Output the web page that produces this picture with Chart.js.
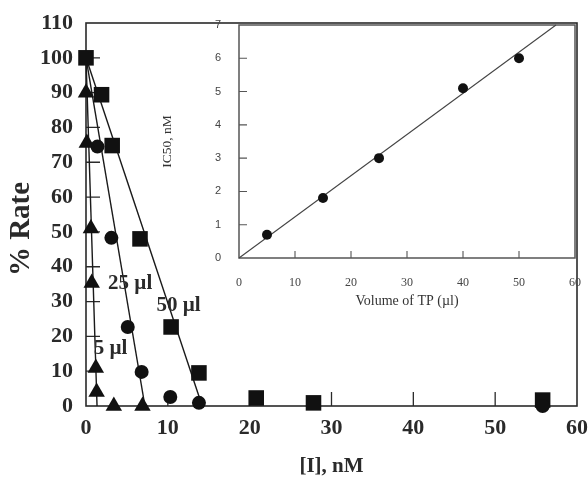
<!DOCTYPE html>
<html lang="en">
<head>
<meta charset="UTF-8">
<title>% Rate vs [I]</title>
<script src="https://cdn.jsdelivr.net/npm/chart.js"></script>
<style>
    body { margin: 0; background: #fff; }
    #wrap { position: relative; width: 588px; height: 481px; }
    #mainChart { position: absolute; left: 0; top: 0; }
    #insetChart { position: absolute; left: 140px; top: 0; }
</style>
</head>
<body>
<div id="wrap">
    <canvas id="mainChart" width="588" height="481"></canvas>
    <canvas id="insetChart" width="448" height="320"></canvas>
</div>
<script>
// main plot: % rate vs [I] for three volumes of TP
const sqX = [0, 1.9, 3.2, 6.6, 10.4, 13.8, 20.8, 27.8, 55.8];
const sqY = [100, 89.4, 74.8, 48, 22.7, 9.5, 2.3, 0.9, 1.7];
const ciX = [1.4, 3.1, 5.1, 6.8, 10.3, 13.8, 55.8];
const ciY = [74.5, 48.3, 22.7, 9.8, 2.6, 0.9, 0];
const trX = [0, 0.1, 0.6, 0.7, 1.2, 1.3, 3.4, 6.9];
const trY = [90, 75.5, 51, 35.3, 10.9, 4, 0, 0];

// straight fitted lines (end points)
const fit5X = [0, 1.35], fit5Y = [100, 0];
const fit25X = [0, 7.2], fit25Y = [100, 0];
const fit50X = [0, 14.2], fit50Y = [100, 0];

const noteText = ['5 µl', '25 µl', '50 µl'];
const noteX = [3.0, 5.4, 11.3];
const noteY = [16.4, 35.3, 28.7];

// inset: IC50 vs volume of TP
const volX = [5, 15, 25, 40, 50];
const ic50Y = [0.7, 1.8, 3.0, 5.1, 6.0];
const icFitX = [0, 56.6], icFitY = [0, 7];

const serif = '"Liberation Serif", "Times New Roman", serif';
const sans = '"Liberation Sans", Arial, sans-serif';

function pts(xs, ys) { return xs.map((x, i) => ({x: x, y: ys[i]})); }

// box round the plot area plus short ticks pointing inwards
const frame = {
    id: 'frame',
    beforeDatasetsDraw(chart, args, o) {
        const {ctx, chartArea: a, scales} = chart;
        ctx.save();
        ctx.strokeStyle = o.color;
        ctx.lineWidth = o.width;
        ctx.strokeRect(a.left, a.top, a.right - a.left, a.bottom - a.top);
        ctx.lineWidth = o.tickWidth;
        ctx.beginPath();
        scales.x.ticks.forEach(t => {
            if (t.value <= scales.x.min || t.value >= scales.x.max) return;
            const px = scales.x.getPixelForValue(t.value);
            ctx.moveTo(px, a.bottom);
            ctx.lineTo(px, a.bottom - o.xLen);
        });
        scales.y.ticks.forEach(t => {
            if (t.value <= scales.y.min || t.value >= scales.y.max) return;
            const py = scales.y.getPixelForValue(t.value);
            ctx.moveTo(a.left, py);
            ctx.lineTo(a.left + o.yLen, py);
        });
        ctx.stroke();
        ctx.restore();
    }
};

const notes = {
    id: 'notes',
    afterDatasetsDraw(chart) {
        if (!chart.options.plugins.notes) return;
        const {ctx, scales} = chart;
        ctx.save();
        ctx.fillStyle = '#2a2a2a';
        ctx.font = 'bold 21px ' + serif;
        ctx.textAlign = 'center';
        ctx.textBaseline = 'middle';
        noteText.forEach((t, i) => {
            ctx.fillText(t, scales.x.getPixelForValue(noteX[i]), scales.y.getPixelForValue(noteY[i]));
        });
        ctx.restore();
    }
};

// drop the label-overflow padding chart.js adds, the layout padding sets the plot box
function fixX(h) { return s => { s.height = h; s.paddingLeft = 0; s.paddingRight = 0; }; }
function fixY(w) { return s => { s.width = w; s.paddingTop = 0; s.paddingBottom = 0; }; }

function lineSet(xs, ys, color, w) {
    return { type: 'line', data: pts(xs, ys), borderColor: color, borderWidth: w,
             pointRadius: 0, fill: false, order: 2, clip: false };
}

function markSet(label, xs, ys, style, r) {
    return { label: label, data: pts(xs, ys), pointStyle: style, pointRadius: r,
             backgroundColor: '#111', borderColor: '#111', borderWidth: 0, order: 1, clip: false };
}

new Chart(document.getElementById('mainChart'), {
    type: 'scatter',
    data: {
        datasets: [
            lineSet(fit5X, fit5Y, '#1a1a1a', 1.4),
            lineSet(fit25X, fit25Y, '#1a1a1a', 1.4),
            lineSet(fit50X, fit50Y, '#1a1a1a', 1.4),
            markSet('5 µl', trX, trY, 'triangle', 9.5),
            markSet('25 µl', ciX, ciY, 'circle', 7),
            markSet('50 µl', sqX, sqY, 'rect', 11)
        ]
    },
    options: {
        responsive: false,
        animation: false,
        layout: { padding: { top: 23, right: 10, left: 0, bottom: 0 } },
        plugins: {
            legend: { display: false },
            tooltip: { enabled: false },
            frame: { color: '#2a2a2a', width: 1.6, tickWidth: 1.3, xLen: 14, yLen: 14 },
            notes: true
        },
        scales: {
            x: {
                type: 'linear', min: 0, max: 60,
                afterFit: fixX(75),
                grid: { display: false, drawTicks: false },
                border: { display: false },
                ticks: { stepSize: 10, padding: 9, color: '#2a2a2a', font: { family: serif, size: 22, weight: 'bold' } },
                title: { display: true, text: '[I], nM', color: '#2a2a2a', padding: { top: 0, bottom: 2 },
                         font: { family: serif, size: 21, weight: 'bold' } }
            },
            y: {
                type: 'linear', min: 0, max: 110,
                afterFit: fixY(86),
                grid: { display: false, drawTicks: false },
                border: { display: false },
                ticks: { stepSize: 10, padding: 13, color: '#2a2a2a', font: { family: serif, size: 22, weight: 'bold' } },
                title: { display: true, text: '% Rate\u00a0\u00a0\u00a0\u00a0', color: '#2a2a2a', padding: { top: 4, bottom: 0 },
                         font: { family: serif, size: 29, weight: 'bold' } }
            }
        }
    },
    plugins: [frame, notes]
});

new Chart(document.getElementById('insetChart'), {
    type: 'scatter',
    data: {
        datasets: [
            lineSet(icFitX, icFitY, '#444', 1.1),
            markSet('IC50', volX, ic50Y, 'circle', 5)
        ]
    },
    options: {
        responsive: false,
        animation: false,
        layout: { padding: { top: 25, right: 13, left: 15, bottom: 8 } },
        plugins: {
            legend: { display: false },
            tooltip: { enabled: false },
            frame: { color: '#555', width: 1.5, tickWidth: 1.1, xLen: 7, yLen: 8 }
        },
        scales: {
            x: {
                type: 'linear', min: 0, max: 60,
                afterFit: fixX(54),
                grid: { display: false, drawTicks: false },
                border: { display: false },
                ticks: { stepSize: 10, padding: 18, color: '#444', font: { family: serif, size: 12 } },
                title: { display: true, text: 'Volume of TP (µl)', color: '#333', padding: { top: 0, bottom: 2 },
                         font: { family: serif, size: 14 } }
            },
            y: {
                type: 'linear', min: 0, max: 7,
                afterFit: fixY(84),
                grid: { display: false, drawTicks: false },
                border: { display: false },
                ticks: { stepSize: 1, padding: 18, color: '#444', font: { family: sans, size: 11 } },
                title: { display: true, text: 'IC50, nM', color: '#333', padding: { top: 4, bottom: 0 },
                         font: { family: serif, size: 13.5 } }
            }
        }
    },
    plugins: [frame]
});
</script>
</body>
</html>
